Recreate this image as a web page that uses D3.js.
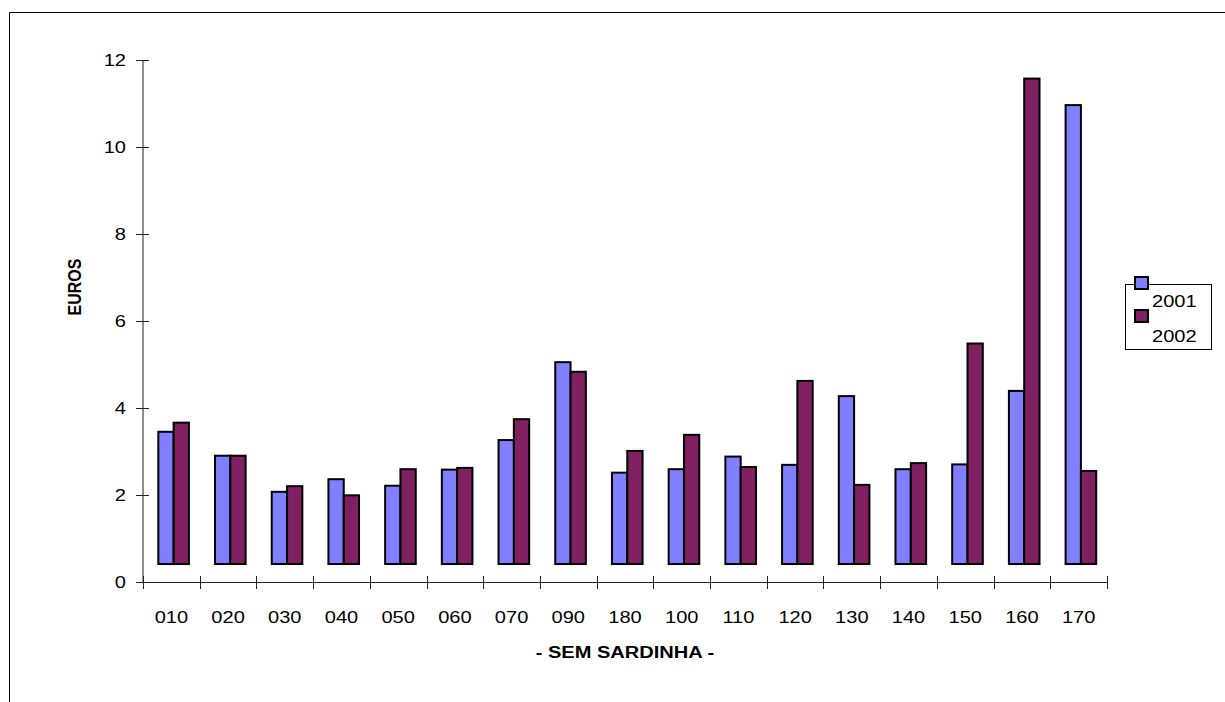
<!DOCTYPE html>
<html>
<head>
<meta charset="utf-8">
<script src="https://cdn.jsdelivr.net/npm/d3@7"></script>
<style>
  html, body { margin: 0; padding: 0; background: #fff; }
  svg { display: block; }
  text { font-family: "Liberation Sans", Arial, sans-serif; fill: #000; }
</style>
</head>
<body>
<svg id="chart" width="1225" height="702"></svg>
<script>
const categories = ["010","020","030","040","050","060","070","090","180","100","110","120","130","140","150","160","170"];
const values2001 = [3.46,2.91,2.08,2.37,2.22,2.59,3.27,5.06,2.52,2.60,2.89,2.70,4.28,2.60,2.71,4.40,10.97];
const values2002 = [3.67,2.91,2.21,2.00,2.60,2.63,3.75,4.84,3.02,3.39,2.65,4.63,2.24,2.74,5.49,11.58,2.56];
const seriesNames = ["2001","2002"];
const yTicks = [0,2,4,6,8,10,12];
const barBase = 0.42; // bars in the original start slightly above zero

const colors = {"2001": "#8080ff", "2002": "#802060"};
const SX = 1.18; // horizontal stretch of the original picture's text
const FS = 17;

const svg = d3.select("#chart");

// outer frame
svg.append("path")
  .attr("d", "M9.5,702 L9.5,12.5 L1225,12.5")
  .attr("fill", "none").attr("stroke", "#000").attr("stroke-width", 1);

const x0 = d3.scaleBand().domain(categories).range([143, 1107]).padding(0);
const bw = x0.bandwidth();
const x1 = d3.scaleBand().domain(seriesNames).range([bw * 0.27, bw * 0.27 + bw * 0.54]).padding(0);
const y = d3.scaleLinear().domain([0, 12]).range([582.3, 60.3]);

const rows = categories.map((c, i) => ({c, vals: [
  {s: "2001", v: values2001[i]},
  {s: "2002", v: values2002[i]}
]}));

// bars
const g = svg.append("g");
g.selectAll("g.cat").data(rows).join("g")
  .attr("class", "cat")
  .attr("transform", d => `translate(${x0(d.c)},0)`)
  .selectAll("rect").data(d => d.vals).join("rect")
  .attr("x", d => x1(d.s))
  .attr("width", x1.bandwidth())
  .attr("y", d => y(d.v))
  .attr("height", d => y(barBase) - y(d.v))
  .attr("fill", d => colors[d.s])
  .attr("stroke", "#000")
  .attr("stroke-width", 2);

// y axis
const ya = svg.append("g").attr("transform", "translate(143,0)");
ya.append("line").attr("x1", 0).attr("x2", 0).attr("y1", y(12)).attr("y2", y(0))
  .attr("stroke", "#222").attr("stroke-width", 1);
ya.selectAll("line.tick").data(yTicks).join("line").attr("class", "tick")
  .attr("x1", -7).attr("x2", 6)
  .attr("y1", d => Math.round(y(d)) + 0.5).attr("y2", d => Math.round(y(d)) + 0.5)
  .attr("stroke", "#222").attr("stroke-width", 1);
ya.selectAll("text").data(yTicks).join("text")
  .attr("transform", d => `translate(-17,${y(d) + 6}) scale(${SX},1)`)
  .attr("text-anchor", "end")
  .attr("font-size", FS)
  .text(d => d);

// x axis
const xa = svg.append("g");
const xTickPos = categories.map(c => x0(c)).concat([x0.range()[1]]);
xa.append("line").attr("x1", 143).attr("x2", 1107).attr("y1", 582.5).attr("y2", 582.5)
  .attr("stroke", "#222").attr("stroke-width", 1);
xa.selectAll("line.tick").data(xTickPos).join("line").attr("class", "tick")
  .attr("x1", d => Math.round(d) + 0.5).attr("x2", d => Math.round(d) + 0.5)
  .attr("y1", 576).attr("y2", 589)
  .attr("stroke", "#222").attr("stroke-width", 1);
xa.selectAll("text").data(categories).join("text")
  .attr("transform", d => `translate(${x0(d) + bw / 2},${623}) scale(${SX},1)`)
  .attr("text-anchor", "middle")
  .attr("font-size", FS)
  .text(d => d);

// axis titles
svg.append("text")
  .attr("transform", `translate(625,658) scale(${SX},1)`)
  .attr("text-anchor", "middle")
  .attr("font-size", FS).attr("font-weight", "bold")
  .text("- SEM SARDINHA -");

svg.append("text")
  .attr("transform", `translate(81,287) rotate(-90) scale(1,${SX})`)
  .attr("text-anchor", "middle")
  .attr("font-size", 16).attr("font-weight", "bold")
  .text("EUROS");

// legend
const lg = svg.append("g");
lg.append("rect").attr("x", 1125.5).attr("y", 284.5).attr("width", 86).attr("height", 65)
  .attr("fill", "#fff").attr("stroke", "#000").attr("stroke-width", 1);
seriesNames.forEach((s, i) => {
  lg.append("rect")
    .attr("x", 1135).attr("y", 277 + i * 33).attr("width", 13).attr("height", 12)
    .attr("fill", colors[s]).attr("stroke", "#000").attr("stroke-width", 2);
  lg.append("text")
    .attr("transform", `translate(1152,${307 + i * 35}) scale(${SX},1)`)
    .attr("font-size", FS)
    .text(s);
});
</script>
</body>
</html>
